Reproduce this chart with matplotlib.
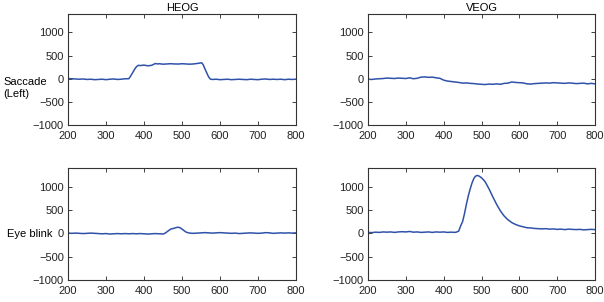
import matplotlib
matplotlib.use("Agg")
import matplotlib.pyplot as plt

plt.rcParams['font.family'] = ['Liberation Sans', 'DejaVu Sans']

# ---- data ----
sac_heog_x = [200, 210, 220, 230, 240, 250, 260, 270, 280, 290, 300, 310, 320, 330, 340, 350, 360,
              365, 370, 375, 380, 385, 390, 400, 410, 420, 425, 430, 435, 440, 450, 460, 470, 480,
              490, 500, 510, 520, 530, 540, 548, 552, 556, 560, 565, 570, 575, 580, 590, 600, 610,
              620, 630, 640, 650, 660, 670, 680, 690, 700, 710, 720, 730, 740, 750, 760, 770, 780,
              790, 800]
sac_heog_y = [5, 0, -5, -10, -5, -15, -10, -20, -15, -10, -20, -10, -5, -15, -10, 0, 0,
              60, 130, 200, 260, 290, 285, 295, 280, 290, 310, 330, 320, 325, 315, 320, 325, 320,
              318, 325, 320, 315, 320, 330, 340, 345, 300, 220, 130, 40, -10, -15, -10, -20, -15,
              -10, -20, -15, -10, -15, -20, -10, -15, -20, -10, -5, -15, -10, -15, -10, -20, -10,
              -15, -10]

sac_veog_x = [200, 210, 220, 230, 240, 250, 260, 270, 280, 290, 300, 310, 320, 330, 340, 350, 360,
              370, 380, 390, 400, 410, 420, 430, 440, 450, 460, 470, 480, 490, 500, 510, 520, 530,
              540, 550, 560, 570, 580, 590, 600, 610, 620, 630, 640, 650, 660, 670, 680, 690, 700,
              710, 720, 730, 740, 750, 760, 770, 780, 790, 800]
sac_veog_y = [-10, -15, -5, 0, 5, 15, 10, 5, 15, 10, 5, 20, 0, 10, 35, 40, 30,
              35, 20, 10, -30, -50, -60, -70, -80, -95, -90, -100, -105, -115, -120, -125, -115, -120,
              -110, -120, -100, -95, -70, -80, -85, -90, -110, -115, -105, -100, -95, -90, -95, -85, -90,
              -95, -100, -90, -95, -105, -100, -95, -110, -100, -110]

blk_heog_x = [200, 210, 220, 230, 240, 250, 260, 270, 280, 290, 300, 310, 320, 330, 340, 350, 360,
              370, 380, 390, 400, 410, 420, 430, 440, 450, 455, 460, 465, 470, 475, 480, 485, 490,
              495, 500, 505, 510, 515, 520, 530, 540, 550, 560, 570, 580, 590, 600, 610, 620, 630,
              640, 650, 660, 670, 680, 690, 700, 710, 720, 730, 740, 750, 760, 770, 780, 790, 800]
blk_heog_y = [5, 0, 5, 0, -5, 0, 5, 0, -5, -10, -5, -15, -10, -5, -10, -5, -10,
              -5, -10, -5, -10, -15, -10, -5, -10, -15, 0, 30, 60, 90, 100, 110, 125, 130,
              120, 90, 60, 30, 15, 5, 0, 5, 10, 15, 10, 5, 10, 15, 10, 5, 0,
              5, -5, 0, 5, 10, 5, 0, 5, 15, 10, 0, 5, 10, 5, 10, 5, 10]

blk_veog_x = [200, 210, 220, 230, 240, 250, 260, 270, 280, 290, 300, 310, 320, 330, 340, 350, 360,
              370, 380, 390, 400, 410, 420, 430, 435, 440, 443, 446, 450, 455, 460, 465, 470, 475,
              480, 485, 490, 495, 500, 505, 510, 520, 530, 540, 550, 560, 570, 580, 590, 600, 610,
              620, 630, 640, 650, 660, 670, 680, 690, 700, 710, 720, 730, 740, 750, 760, 770, 780,
              790, 800]
blk_veog_y = [20, 15, 25, 20, 30, 25, 30, 20, 30, 35, 30, 40, 25, 30, 20, 25, 30,
              20, 30, 25, 30, 20, 25, 20, 30, 50, 120, 180, 250, 420, 620, 800, 950, 1080,
              1180, 1230, 1240, 1220, 1190, 1150, 1100, 950, 780, 620, 480, 370, 290, 230, 190, 160, 140,
              120, 115, 105, 100, 95, 100, 90, 95, 85, 90, 80, 90, 85, 80, 85, 75, 80,
              85, 80]

titles = ["HEOG", "VEOG"]
row_labels = ["Saccade\n(Left)", "Eye blink"]
xticks = [200, 300, 400, 500, 600, 700, 800]
yticks = [-1000, -500, 0, 500, 1000]

W, H = 604, 302
fig = plt.figure(figsize=(W / 100, H / 100), dpi=100)

def box(x0, y0, x1, y1):
    return [x0 / W, 1 - y1 / H, (x1 - x0) / W, (y1 - y0) / H]

positions = [[box(68, 14, 296, 125), box(368, 14, 595, 125)],
             [box(68, 168, 296, 280), box(368, 168, 595, 280)]]
series = [[(sac_heog_x, sac_heog_y), (sac_veog_x, sac_veog_y)],
          [(blk_heog_x, blk_heog_y), (blk_veog_x, blk_veog_y)]]

line_color = '#2f52a8'
for r in range(2):
    for c in range(2):
        ax = fig.add_axes(positions[r][c])
        x, y = series[r][c]
        ax.plot(x, y, color=line_color, lw=1.1)
        ax.set_xlim(200, 800)
        ax.set_ylim(-1000, 1400)
        ax.set_xticks(xticks)
        ax.set_yticks(yticks)
        ax.tick_params(direction='in', top=True, right=True, length=3, width=0.6,
                       labelsize=8, colors='#222222')
        ax.tick_params(axis='x', pad=4)
        ax.tick_params(axis='y', pad=3)
        for s in ax.spines.values():
            s.set_linewidth(0.8)
            s.set_color('#333333')
        if r == 0:
            ax.set_title(titles[c], fontsize=8, pad=2)

fig.text(3 / W, 1 - 88 / H, row_labels[0], fontsize=8, ha='left', va='center', linespacing=1.35)
fig.text(7 / W, 1 - 234 / H, row_labels[1], fontsize=8, ha='left', va='center')

fig.savefig("out.png", dpi=100)
